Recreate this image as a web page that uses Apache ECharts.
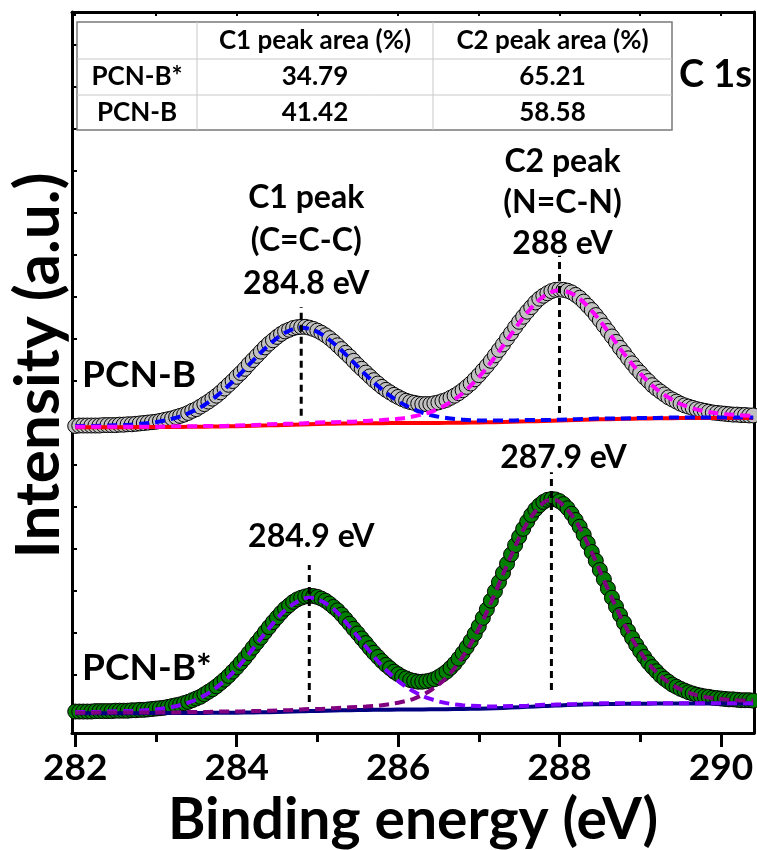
<!DOCTYPE html>
<html>
<head>
<meta charset="utf-8">
<script src="https://cdn.jsdelivr.net/npm/echarts@6/dist/echarts.min.js"></script>
<style>
  html, body { margin: 0; padding: 0; background: #fff; }
  #chart { width: 757px; height: 850px; }
</style>
</head>
<body>
<div id="chart"></div>
<script>
// Binding-energy grid of the measured C 1s points (eV)
const energy = [
  282,282.05,282.1,282.15,282.2,282.25,282.3,282.35,282.4,282.45,
  282.5,282.55,282.6,282.65,282.7,282.75,282.8,282.85,282.9,282.95,
  283,283.05,283.1,283.15,283.2,283.25,283.3,283.35,283.4,283.45,
  283.5,283.55,283.6,283.65,283.7,283.75,283.8,283.85,283.9,283.95,
  284,284.05,284.1,284.15,284.2,284.25,284.3,284.35,284.4,284.45,
  284.5,284.55,284.6,284.65,284.7,284.75,284.8,284.85,284.9,284.95,
  285,285.05,285.1,285.15,285.2,285.25,285.3,285.35,285.4,285.45,
  285.5,285.55,285.6,285.65,285.7,285.75,285.8,285.85,285.9,285.95,
  286,286.05,286.1,286.15,286.2,286.25,286.3,286.35,286.4,286.45,
  286.5,286.55,286.6,286.65,286.7,286.75,286.8,286.85,286.9,286.95,
  287,287.05,287.1,287.15,287.2,287.25,287.3,287.35,287.4,287.45,
  287.5,287.55,287.6,287.65,287.7,287.75,287.8,287.85,287.9,287.95,
  288,288.05,288.1,288.15,288.2,288.25,288.3,288.35,288.4,288.45,
  288.5,288.55,288.6,288.65,288.7,288.75,288.8,288.85,288.9,288.95,
  289,289.05,289.1,289.15,289.2,289.25,289.3,289.35,289.4,289.45,
  289.5,289.55,289.6,289.65,289.7,289.75,289.8,289.85,289.9,289.95,
  290,290.05,290.1,290.15,290.2,290.25,290.3,290.35,290.4
];

// Measured intensity, PCN-B (offset trace, a.u.)
const pcnB = [
  69.3,69.4,69.4,69.4,69.4,69.4,69.4,69.5,69.5,69.5,
  69.5,69.6,69.6,69.7,69.7,69.8,69.9,70.0,70.1,70.2,
  70.3,70.5,70.7,70.9,71.1,71.4,71.7,72.0,72.4,72.9,
  73.3,73.9,74.5,75.1,75.8,76.5,77.3,78.2,79.1,80.0,
  81.0,81.9,82.9,84.0,85.0,86.0,87.0,88.0,88.9,89.7,
  90.5,91.2,91.8,92.2,92.6,92.8,92.9,92.9,92.7,92.4,
  92.0,91.5,90.9,90.2,89.4,88.5,87.6,86.7,85.8,84.8,
  83.8,82.9,82.0,81.1,80.2,79.4,78.6,77.9,77.3,76.7,
  76.2,75.7,75.3,75.0,74.8,74.6,74.5,74.5,74.5,74.7,
  74.9,75.2,75.5,76.0,76.5,77.1,77.8,78.6,79.4,80.4,
  81.4,82.5,83.6,84.8,86.1,87.4,88.7,90.1,91.4,92.8,
  94.1,95.3,96.5,97.6,98.7,99.6,100.3,100.9,101.4,101.7,
  101.8,101.7,101.5,101.1,100.5,99.8,98.9,97.9,96.9,95.7,
  94.5,93.2,91.9,90.6,89.3,87.9,86.7,85.4,84.2,83.0,
  82.0,80.9,80.0,79.0,78.2,77.5,76.8,76.1,75.6,75.1,
  74.6,74.2,73.9,73.6,73.3,73.1,72.9,72.7,72.5,72.4,
  72.3,72.2,72.1,72.0,72.0,71.9,71.9,71.8,71.8
];

// Measured intensity, PCN-B* (a.u.)
const pcnBStar = [
  1.3,1.3,1.3,1.3,1.3,1.4,1.4,1.4,1.4,1.4,
  1.5,1.5,1.5,1.5,1.6,1.6,1.7,1.7,1.8,1.9,
  2.0,2.1,2.2,2.4,2.6,2.8,3.0,3.3,3.6,4.0,
  4.4,4.8,5.4,6.0,6.6,7.3,8.1,8.9,9.8,10.8,
  11.8,12.9,14.0,15.2,16.5,17.7,18.9,20.2,21.4,22.6,
  23.7,24.8,25.8,26.6,27.4,28.0,28.4,28.7,28.9,28.8,
  28.6,28.2,27.7,27.0,26.2,25.4,24.4,23.3,22.2,21.0,
  19.9,18.7,17.6,16.4,15.3,14.3,13.3,12.4,11.6,10.8,
  10.2,9.6,9.2,8.8,8.6,8.4,8.4,8.5,8.7,9.0,
  9.5,10.1,10.8,11.7,12.7,13.9,15.2,16.6,18.1,19.8,
  21.6,23.6,25.6,27.7,29.9,32.1,34.3,36.5,38.7,40.9,
  42.9,44.8,46.5,48.1,49.4,50.4,51.2,51.7,51.9,51.8,
  51.4,50.7,49.7,48.4,46.9,45.3,43.4,41.4,39.3,37.2,
  35.0,32.8,30.6,28.4,26.3,24.3,22.4,20.5,18.8,17.2,
  15.7,14.3,13.0,11.9,10.9,9.9,9.1,8.4,7.7,7.2,
  6.7,6.3,5.9,5.6,5.3,5.1,4.9,4.8,4.6,4.5,
  4.4,4.3,4.2,4.2,4.1,4.0,4.0,4.0,3.9
];

// Fitted components, PCN-B
const fitEnergyB = [
  282,282.2,282.4,282.6,282.8,283,283.2,283.4,283.6,283.8,
  284,284.2,284.4,284.6,284.8,285,285.2,285.4,285.6,285.8,
  286,286.2,286.4,286.6,286.8,287,287.2,287.4,287.6,287.8,
  288,288.2,288.4,288.6,288.8,289,289.2,289.4,289.6,289.8,
  290,290.2,290.4
];
const backgroundB = [
  69.00,69.00,69.01,69.01,69.02,69.03,69.05,69.08,69.12,69.18,
  69.25,69.34,69.44,69.55,69.66,69.76,69.84,69.90,69.94,69.97,
  69.99,70.00,70.02,70.04,70.08,70.13,70.20,70.29,70.39,70.50,
  70.61,70.72,70.83,70.92,71.00,71.07,71.12,71.16,71.18,71.20,
  71.20,71.20,71.20
];
const c1PeakB = [
  69.3,69.3,69.4,69.5,69.8,70.2,71.0,72.3,74.3,77.2,
  80.8,84.8,88.6,91.5,92.7,91.7,89.0,85.4,81.5,78.0,
  75.2,73.2,71.9,71.2,70.8,70.6,70.6,70.6,70.7,70.7,
  70.8,70.9,71.0,71.1,71.1,71.2,71.2,71.3,71.3,71.3,
  71.3,71.3,71.3
];
const c2PeakB = [
  69.1,69.1,69.1,69.1,69.1,69.1,69.2,69.2,69.3,69.3,
  69.4,69.5,69.7,69.8,69.9,70.1,70.2,70.3,70.5,70.7,
  71.0,71.6,72.6,74.4,77.1,80.9,85.7,91.1,96.3,100.1,
  101.6,100.3,96.7,91.8,86.5,81.8,78.1,75.5,73.8,72.8,
  72.2,71.9,71.7
];

// Fitted components, PCN-B*
const fitEnergyBStar = [
  282,282.2,282.4,282.6,282.8,283,283.2,283.4,283.6,283.8,
  284,284.2,284.4,284.6,284.8,284.9,285,285.2,285.4,285.6,
  285.8,286,286.2,286.4,286.6,286.8,287,287.2,287.4,287.6,
  287.8,287.9,288,288.2,288.4,288.6,288.8,289,289.2,289.4,
  289.6,289.8,290,290.2,290.4
];
const backgroundBStar = [
  0.90,0.90,0.91,0.91,0.92,0.93,0.95,0.96,0.98,1.00,
  1.04,1.09,1.16,1.25,1.35,1.40,1.45,1.55,1.63,1.69,
  1.73,1.77,1.80,1.83,1.86,1.91,1.98,2.09,2.24,2.41,
  2.59,2.68,2.76,2.91,3.02,3.09,3.14,3.17,3.19,3.20,
  3.20,3.20,3.20,3.20,3.20
];
const c1PeakBStar = [
  1.2,1.2,1.3,1.4,1.5,1.8,2.4,3.4,5.1,7.8,
  11.5,16.2,21.1,25.4,28.0,28.4,28.1,25.7,21.5,16.8,
  12.2,8.6,6.0,4.3,3.3,2.8,2.6,2.5,2.6,2.7,
  2.9,2.9,3.0,3.1,3.2,3.3,3.3,3.3,3.3,3.3,
  3.3,3.3,3.3,3.3,3.3
];
const c2PeakBStar = [
  1.0,1.0,1.1,1.1,1.1,1.1,1.1,1.2,1.2,1.3,
  1.3,1.4,1.5,1.6,1.8,1.9,1.9,2.1,2.3,2.5,
  2.8,3.4,4.4,6.3,9.4,14.3,21.0,29.4,38.4,46.2,
  51.0,51.7,51.2,46.7,39.2,30.4,22.2,15.5,10.7,7.6,
  5.8,4.8,4.3,4.0,3.9
];

// Peak-position markers
const peakEnergy = [284.8, 288.0, 284.9, 287.9];
const peakLineLow = [71.7, 72.4, 3.6, 6.4];
const peakLineHigh = [97.6, 109.8, 36.2, 58.3];
const peakText = ['C1 peak\n(C=C-C)\n284.8 eV', 'C2 peak\n(N=C-N)\n288 eV', '284.9 eV', '287.9 eV'];

// Axis ticks
const xMajorTicks = [282, 284, 286, 288, 290];
const xMinorTicks = [283, 285, 287, 289];
const xTopTicks = [282, 283, 284, 285, 286, 287, 288, 289, 290];
const yTicks = [0, 10, 20, 30, 40, 50, 60, 70, 80, 90, 100, 110, 120, 130, 140, 150, 160];

// Peak-area table
const tableHeader = ['', 'C1 peak area (%)', 'C2 peak area (%)'];
const tableSamples = ['PCN-B*', 'PCN-B'];
const c1Area = ['34.79', '41.42'];
const c2Area = ['65.21', '58.58'];

const FONT = 'Lato';
const X_MIN = 281.96, X_MAX = 290.41;
const Y_MIN = -3.81, Y_MAX = 167.86;

const pairs = (xs, ys) => xs.map((x, i) => [x, ys[i]]);

const spectrum = (name, ys, fill) => ({
  name, type: 'scatter', data: pairs(energy, ys),
  symbol: 'circle', symbolSize: 15,
  itemStyle: { color: fill, borderColor: '#000', borderWidth: 1, opacity: 1 },
  z: 2, silent: true
});

const fitLine = (name, xs, ys, color, dashed) => ({
  name, type: 'line', data: pairs(xs, ys), smooth: 0.35,
  symbol: 'none', showSymbol: false,
  lineStyle: { color, width: 4, type: dashed ? [10, 6] : 'solid', cap: 'butt' },
  z: 3, silent: true
});

const markerLabel = [
  { offset: [5, 0], distance: 2, lineHeight: 43 },
  { offset: [3, 0], distance: -8, lineHeight: 41 },
  { offset: [2, 0], distance: 12, lineHeight: 32 },
  { offset: [12, 0], distance: -2, lineHeight: 32 }
];

const markers = peakEnergy.map((x, i) => ({
  type: 'line',
  data: [
    [x, peakLineLow[i]],
    {
      value: [x, peakLineHigh[i]],
      label: {
        show: true, position: 'top', formatter: peakText[i],
        distance: markerLabel[i].distance, offset: markerLabel[i].offset,
        fontFamily: FONT, fontSize: 32, fontWeight: 'bold', color: '#000',
        lineHeight: markerLabel[i].lineHeight, align: 'center'
      }
    }
  ],
  symbol: 'circle', symbolSize: 0, showSymbol: true,
  lineStyle: { color: '#000', width: 3, type: [7, 5] },
  z: 6, silent: true
}));

// Table geometry
const TX = [77, 197, 433, 672];
const TY = [22, 59, 95, 130];
const tableGraphic = [];
tableGraphic.push({
  type: 'rect', shape: { x: TX[0], y: TY[0], width: TX[3] - TX[0], height: TY[3] - TY[0] },
  style: { fill: '#fff', stroke: '#7a7a7a', lineWidth: 1.5 }, z: 100
});
[TY[1], TY[2]].forEach(y => tableGraphic.push({
  type: 'line', shape: { x1: TX[0], y1: y, x2: TX[3], y2: y },
  style: { stroke: '#c8c8c8', lineWidth: 1 }, z: 101
}));
[TX[1], TX[2]].forEach(x => tableGraphic.push({
  type: 'line', shape: { x1: x, y1: TY[0], x2: x, y2: TY[3] },
  style: { stroke: '#c8c8c8', lineWidth: 1 }, z: 101
}));
const rows = [tableHeader, [tableSamples[0], c1Area[0], c2Area[0]], [tableSamples[1], c1Area[1], c2Area[1]]];
rows.forEach((row, r) => row.forEach((txt, c) => {
  if (!txt) return;
  tableGraphic.push({
    type: 'text', z: 102,
    style: {
      text: txt, x: (TX[c] + TX[c + 1]) / 2, y: (TY[r] + TY[r + 1]) / 2,
      align: 'center', verticalAlign: 'middle',
      font: 'bold 26px ' + FONT, fill: '#000'
    }
  });
}));

const chart = echarts.init(document.getElementById('chart'), null, { renderer: 'canvas' });

chart.setOption({
  animation: false,
  backgroundColor: '#fff',
  grid: { left: 72, right: 3, top: 12, bottom: 117, containLabel: false, outerBoundsMode: 'none' },
  xAxis: [
    {
      type: 'value', position: 'bottom', min: X_MIN, max: X_MAX,
      axisLine: { show: true, onZero: false, lineStyle: { color: '#000', width: 3 } },
      axisTick: { show: true, customValues: xMajorTicks, inside: false, length: 14, lineStyle: { color: '#000', width: 3 } },
      axisLabel: { show: true, customValues: xMajorTicks, margin: 17, fontFamily: FONT, fontSize: 37, fontWeight: 'bold', color: '#000' },
      splitLine: { show: false },
      name: 'Binding energy (eV)', nameLocation: 'middle', nameGap: 51,
      nameTextStyle: { fontFamily: FONT, fontSize: 57, fontWeight: 'bold', color: '#000' }
    },
    {
      type: 'value', position: 'bottom', min: X_MIN, max: X_MAX,
      axisLine: { show: false, onZero: false },
      axisTick: { show: true, customValues: xMinorTicks, inside: false, length: 9, lineStyle: { color: '#000', width: 3 } },
      axisLabel: { show: false }, splitLine: { show: false }
    },
    {
      type: 'value', position: 'top', min: X_MIN, max: X_MAX,
      axisLine: { show: true, onZero: false, lineStyle: { color: '#000', width: 3 } },
      axisTick: { show: true, customValues: xTopTicks, inside: true, length: 4, lineStyle: { color: '#000', width: 2 } },
      axisLabel: { show: false }, splitLine: { show: false }
    }
  ],
  yAxis: [
    {
      type: 'value', position: 'left', min: Y_MIN, max: Y_MAX,
      axisLine: { show: true, onZero: false, lineStyle: { color: '#000', width: 3 } },
      axisTick: { show: true, customValues: yTicks, inside: true, length: 5, lineStyle: { color: '#000', width: 2 } },
      axisLabel: { show: false }, splitLine: { show: false },
      name: 'Intensity (a.u.)', nameLocation: 'middle', nameGap: 2, nameRotate: 90,
      nameTextStyle: { fontFamily: FONT, fontSize: 62, fontWeight: 'bold', color: '#000', padding: [0, 0, 0, 14] }
    },
    {
      type: 'value', position: 'right', min: Y_MIN, max: Y_MAX,
      axisLine: { show: true, onZero: false, lineStyle: { color: '#000', width: 3 } },
      axisTick: { show: false }, axisLabel: { show: false }, splitLine: { show: false }
    }
  ],
  series: [
    spectrum('PCN-B', pcnB, '#c0c0c0'),
    fitLine('PCN-B background', fitEnergyB, backgroundB, '#ff0000', false),
    fitLine('PCN-B C1', fitEnergyB, c1PeakB, '#0000ff', true),
    fitLine('PCN-B C2', fitEnergyB, c2PeakB, '#ff00ff', true),
    spectrum('PCN-B*', pcnBStar, '#007f00'),
    fitLine('PCN-B* background', fitEnergyBStar, backgroundBStar, '#000080', false),
    fitLine('PCN-B* C1', fitEnergyBStar, c1PeakBStar, '#8000ff', true),
    fitLine('PCN-B* C2', fitEnergyBStar, c2PeakBStar, '#800080', true),
    ...markers
  ],
  graphic: [
    ...tableGraphic,
    { type: 'text', z: 102, style: { text: 'C 1s', x: 752, y: 75, align: 'right', verticalAlign: 'middle', font: 'bold 38px ' + FONT, fill: '#000' } },
    { type: 'text', z: 102, style: { text: 'PCN-B', x: 82, y: 375, align: 'left', verticalAlign: 'middle', font: 'bold 37px ' + FONT, fill: '#000' } },
    { type: 'text', z: 102, style: { text: 'PCN-B*', x: 82, y: 668, align: 'left', verticalAlign: 'middle', font: 'bold 37px ' + FONT, fill: '#000' } }
  ]
});
</script>
</body>
</html>
